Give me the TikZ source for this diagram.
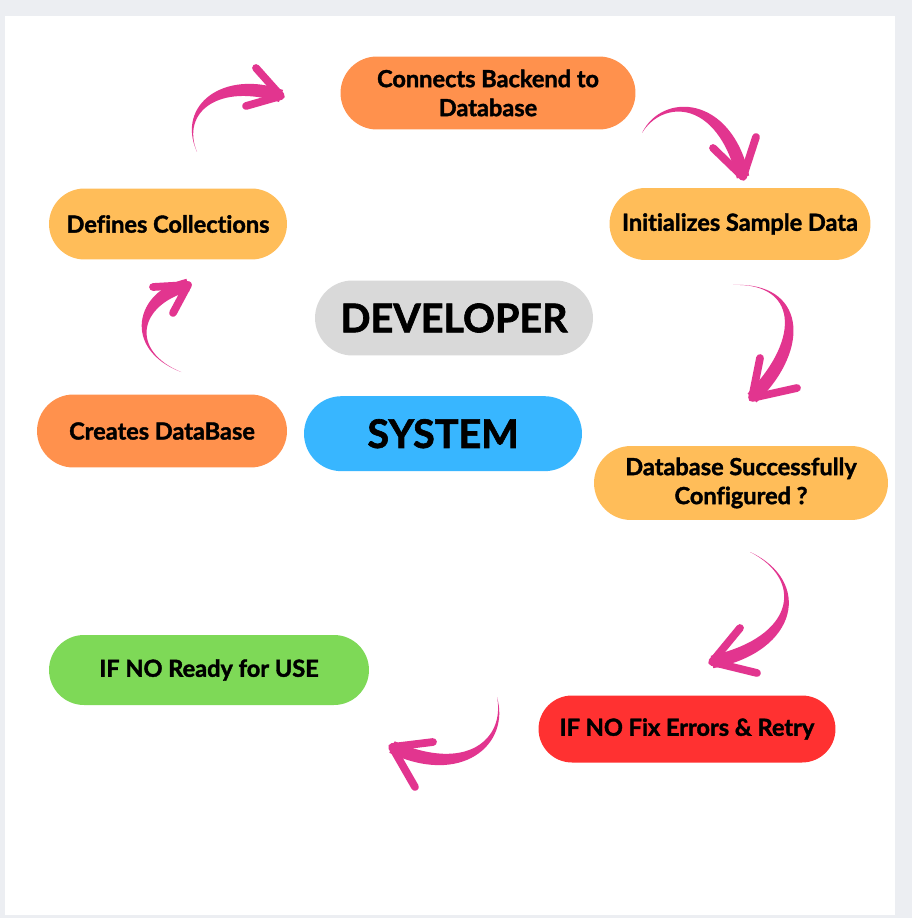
\documentclass[tikz,border=0pt]{standalone}
\usepackage{fontspec}
\setmainfont{Lato}[Ligatures=NoCommon, BoldFeatures={FakeBold=1.6}]
\usepackage{tikz}
\usetikzlibrary{shapes.misc,positioning,calc}

\definecolor{pagegray}{HTML}{ECEEF2}
\definecolor{boxorange}{HTML}{FF914D}
\definecolor{boxyellow}{HTML}{FFBD59}
\definecolor{boxgray}{HTML}{D9D9D9}
\definecolor{boxblue}{HTML}{38B6FF}
\definecolor{boxgreen}{HTML}{7ED957}
\definecolor{boxred}{HTML}{FF3131}
\definecolor{arrowpink}{HTML}{E2358F}

\tikzset{
  pill/.style={rounded rectangle, fill=#1, align=center, inner sep=0pt,
    font=\bfseries\fontsize{13.4}{16.5}\selectfont},
  bigpill/.style={pill=#1, font=\bfseries\fontsize{22.5}{26}\selectfont},
  brush/.style={fill=arrowpink},
  barb/.style={draw=arrowpink, line width=4.4pt, line cap=round, line join=round}
}

% tail, control 1, control 2, tip, barb 1, barb 2
\newcommand{\curlyarrow}[6]{%
  \fill[brush] (#1) .. controls ($#2!2.4pt!-90:#3$) and ($#3!4.2pt!-90:(#4)$) .. ($(#4)!3.6pt!90:#3$)
    -- ($(#4)!3.6pt!-90:#3$) .. controls ($#3!4.2pt!90:(#4)$) and ($#2!2.4pt!90:#3$) .. (#1) -- cycle;
  \draw[barb] #5 -- (#4) -- #6;
}

\begin{document}
\begin{tikzpicture}[x=0.02cm, y=-0.02cm]
  \fill[pagegray] (0,0) rectangle (912,918);
  \fill[white] (5,16) rectangle (895,915);
  \useasboundingbox (0,0) rectangle (912,918);

  \node[pill=boxorange, minimum width=5.9cm, minimum height=1.46cm] (conn) at (488,93) {Connects Backend to\\Database};
  \node[pill=boxyellow, minimum width=4.76cm, minimum height=1.42cm] (defs) at (168,224) {Defines Collections};
  \node[pill=boxyellow, minimum width=5.22cm, minimum height=1.44cm] (init) at (740,224) {Initializes Sample Data};
  \node[bigpill=boxgray, minimum width=5.56cm, minimum height=1.5cm] (dev) at (454,318) {DEVELOPER};
  \node[bigpill=boxblue, minimum width=5.56cm, minimum height=1.5cm] (sys) [below=0.8cm of dev, xshift=-0.22cm] {SYSTEM};
  \node[pill=boxorange, minimum width=5cm, minimum height=1.46cm] (crea) at (162,431) {Creates DataBase};
  \node[pill=boxyellow, minimum width=5.88cm, minimum height=1.48cm] (conf) at (741,483) {Database Successfully\\Configured ?};
  \node[pill=boxgreen, minimum width=6.4cm, minimum height=1.4cm] (ready) at (209,670) {IF NO Ready for USE};
  \node[pill=boxred, minimum width=5.94cm, minimum height=1.34cm] (fix) at (687,729) {IF NO Fix Errors \& Retry};

  % arrow ends
  \coordinate (t1) at (197,152); \coordinate (h1) at (281,96);
  \coordinate (t2) at (642,133); \coordinate (h2) at (743,177);
  \coordinate (t3) at (733,285); \coordinate (h3) at (752,398);
  \coordinate (t4) at (181,372); \coordinate (h4) at (188,285);
  \coordinate (t5) at (750,552); \coordinate (h5) at (712,662);
  \coordinate (t6) at (497,697); \coordinate (h6) at (392,747);

  \curlyarrow{t1}{(178,108)}{(222,76)}{h1}{(256,68)}{(246,106)}
  \curlyarrow{t2}{(662,96)}{(724,96)}{h2}{(713,148)}{(756,137)}
  \curlyarrow{t3}{(800,282)}{(808,342)}{h3}{(760,358)}{(797,388)}
  \curlyarrow{t4}{(126,350)}{(136,298)}{h4}{(153,287)}{(173,313)}
  \curlyarrow{t5}{(808,580)}{(798,644)}{h5}{(740,628)}{(757,673)}
  \curlyarrow{t6}{(508,742)}{(464,780)}{h6}{(433,742)}{(415,787)}
\end{tikzpicture}
\end{document}
